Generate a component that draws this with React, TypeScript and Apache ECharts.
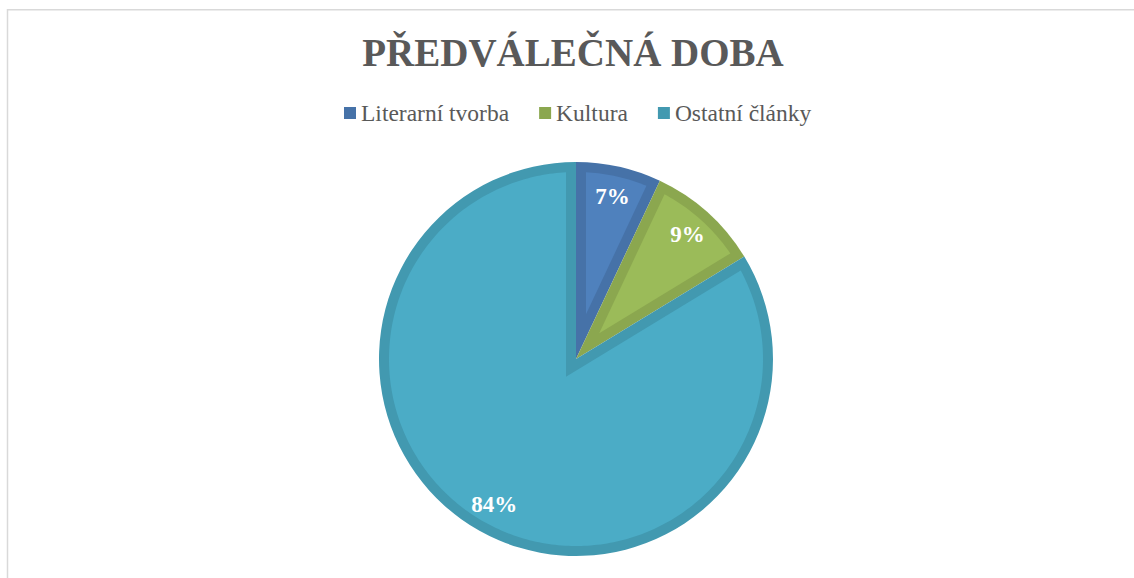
import React, { useEffect, useRef } from "react";
import * as echarts from "echarts";

const TITLE = "PŘEDVÁLEČNÁ DOBA";
const categories = ["Literarní tvorba", "Kultura", "Ostatní články"];
const values = [7.0, 9.3, 83.7];
const fillColors = ["#4f81bd", "#9bbb59", "#4bacc6"];
const borderColors = ["#4672a8", "#8ba74f", "#4299b0"];

const CX = 576;
const CY = 359;
const R = 197;
const BAND = 10;
const LABEL_R = 167;
const FONT = '"Liberation Serif", "Times New Roman", serif';

export default function App() {
  const ref = useRef<HTMLDivElement>(null);
  useEffect(() => {
    if (!ref.current) return;
    const chart = echarts.init(ref.current, undefined, { renderer: "svg" });
    const total = values.reduce((a, b) => a + b, 0);
    const cum: number[] = [];
    let acc = 0;
    values.forEach((v) => {
      cum.push(acc);
      acc += v;
    });

    const renderItem = (params: any) => {
      const i = params.dataIndex;
      const a = -Math.PI / 2 + (2 * Math.PI * cum[i]) / total;
      const b = -Math.PI / 2 + (2 * Math.PI * (cum[i] + values[i])) / total;
      const theta = b - a;
      const mid = (a + b) / 2;
      const vd = BAND / Math.sin(theta / 2);
      const pts: number[][] = [];
      pts.push([CX + Math.cos(mid) * vd, CY + Math.sin(mid) * vd]);
      const rho = R - BAND;
      const delta = Math.asin(BAND / rho);
      const s = a + delta;
      const e = b - delta;
      const n = Math.max(2, Math.ceil(((e - s) * 180) / Math.PI));
      for (let k = 0; k <= n; k++) {
        const t = s + ((e - s) * k) / n;
        pts.push([CX + Math.cos(t) * rho, CY + Math.sin(t) * rho]);
      }
      const pct = Math.round((values[i] / total) * 100);
      return {
        type: "group",
        children: [
          {
            type: "polygon",
            shape: { points: pts },
            style: { fill: fillColors[i] },
          },
          {
            type: "text",
            x: CX + Math.cos(mid) * LABEL_R,
            y: CY + Math.sin(mid) * LABEL_R,
            style: {
              text: pct + "%",
              fill: "#ffffff",
              font: `bold 23px ${FONT}`,
              align: "center",
              verticalAlign: "middle",
            },
          },
        ],
      };
    };

    chart.setOption({
      animation: false,
      backgroundColor: "#ffffff",
      title: {
        text: TITLE,
        left: 568,
        textAlign: "center",
        top: 28,
        textStyle: {
          fontFamily: FONT,
          fontSize: 39,
          fontWeight: "bold",
          color: "#595959",
        },
      },
      legend: {
        data: categories,
        left: 339,
        top: 96,
        icon: "rect",
        itemWidth: 12,
        itemHeight: 12,
        itemGap: 30,
        selectedMode: false,
        textStyle: { fontFamily: FONT, fontSize: 23.5, color: "#595959" },
      },
      graphic: [
        {
          type: "rect",
          shape: { x: 7.5, y: 9.8, width: 1400, height: 900 },
          style: { fill: "none", stroke: "#d9d9d9", lineWidth: 1.5 },
          silent: true,
          z: 100,
        },
      ],
      series: [
        {
          type: "pie",
          center: [CX, CY],
          radius: [0, R],
          startAngle: 90,
          clockwise: true,
          silent: true,
          label: { show: false },
          labelLine: { show: false },
          emphasis: { disabled: true },
          itemStyle: { borderWidth: 0 },
          data: categories.map((name, i) => ({
            name,
            value: values[i],
            itemStyle: { color: borderColors[i] },
          })),
          z: 2,
        },
        {
          type: "custom",
          coordinateSystem: "none",
          silent: true,
          renderItem,
          data: values,
          z: 3,
        },
      ],
    });
    return () => chart.dispose();
  }, []);
  return (
    <div
      ref={ref}
      style={{ position: "absolute", left: 0, top: 0, width: 1134, height: 578 }}
    />
  );
}
